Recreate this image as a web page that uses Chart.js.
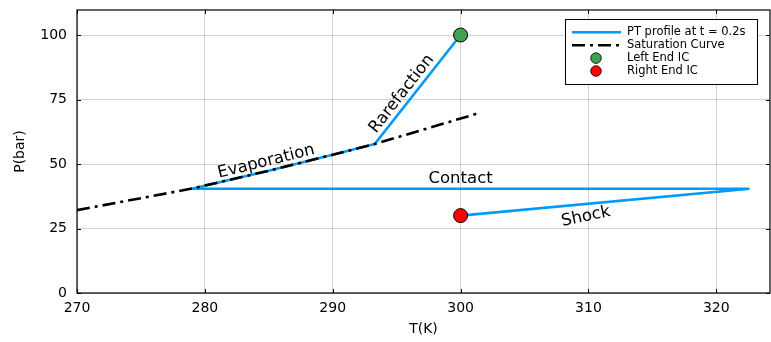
<!DOCTYPE html>
<html>
<head>
<meta charset="utf-8">
<script src="https://cdn.jsdelivr.net/npm/chart.js@4"></script>
<style>
  html, body { margin: 0; padding: 0; background: #fff; }
  #wrap { width: 771px; height: 342px; }
</style>
</head>
<body>
<div id="wrap"><canvas id="pt-chart"></canvas></div>
<script>
// saturation curve (T in K, P in bar)
var satT = [270, 279, 285, 290, 293.3, 297, 301.6];
var satP = [32.1, 40.5, 47.4, 53.6, 57.8, 63.2, 70.0];

// PT profile at t = 0.2s
var profT = [300, 293.3, 290, 285, 279, 322.6, 300];
var profP = [100, 57.8, 53.6, 47.4, 40.4, 40.4, 30];

var leftIC = {T: 300, P: 100};
var rightIC = {T: 300, P: 30};

var xTicks = [270, 280, 290, 300, 310, 320];
var yTicks = [0, 25, 50, 75, 100];

// wave labels: text, T, P, angle (deg)
var waveLabels = [
    {text: 'Evaporation', T: 284.8, P: 50.9, angle: -14},
    {text: 'Rarefaction', T: 295.4, P: 77.2, angle: -52},
    {text: 'Contact', T: 300, P: 44.4, angle: 0},
    {text: 'Shock', T: 309.8, P: 29.6, angle: -12}
];

function pts(xs, ys) {
    return xs.map(function(x, i) { return {x: x, y: ys[i]}; });
}

var FONT = "'DejaVu Sans', sans-serif";

var framePlugin = {
    id: 'frame',
    afterDatasetsDraw: function(chart) {
        var ctx = chart.ctx, a = chart.chartArea;
        var xs = chart.scales.x, ys = chart.scales.y;
        ctx.save();
        // wave labels
        ctx.fillStyle = '#000';
        ctx.font = '16.5px ' + FONT;
        ctx.textAlign = 'center';
        ctx.textBaseline = 'middle';
        waveLabels.forEach(function(l) {
            ctx.save();
            ctx.translate(xs.getPixelForValue(l.T), ys.getPixelForValue(l.P));
            ctx.rotate(l.angle * Math.PI / 180);
            ctx.fillText(l.text, 0, 0);
            ctx.restore();
        });
        // box frame
        ctx.strokeStyle = '#000';
        ctx.lineWidth = 1.2;
        ctx.strokeRect(a.left, a.top, a.right - a.left, a.bottom - a.top);
        // inside tick marks
        ctx.lineWidth = 1;
        xTicks.forEach(function(t) {
            var px = Math.round(xs.getPixelForValue(t)) + 0.5;
            ctx.beginPath();
            ctx.moveTo(px, a.bottom); ctx.lineTo(px, a.bottom - 4);
            ctx.moveTo(px, a.top); ctx.lineTo(px, a.top + 4);
            ctx.stroke();
        });
        yTicks.forEach(function(t) {
            var py = Math.round(ys.getPixelForValue(t)) + 0.5;
            ctx.beginPath();
            ctx.moveTo(a.left, py); ctx.lineTo(a.left + 4, py);
            ctx.moveTo(a.right, py); ctx.lineTo(a.right - 4, py);
            ctx.stroke();
        });
        // legend box
        var lx = 565, ly = 19, lw = 192, lh = 65;
        ctx.fillStyle = '#fff';
        ctx.fillRect(lx, ly, lw, lh);
        ctx.lineWidth = 1;
        ctx.strokeRect(lx + 0.5, ly + 0.5, lw, lh);
        ctx.font = '11.5px ' + FONT;
        ctx.textAlign = 'left';
        ctx.textBaseline = 'middle';
        chart.data.datasets.forEach(function(ds, i) {
            var y = ly + 13.3 + i * 12.9;
            var x0 = lx + 7, x1 = lx + 56;
            if (ds.pointRadius === 0) {
                ctx.save();
                ctx.strokeStyle = ds.borderColor;
                ctx.lineWidth = 2.6;
                ctx.setLineDash(ds.borderDash || []);
                ctx.beginPath();
                ctx.moveTo(x0, y); ctx.lineTo(x1, y);
                ctx.stroke();
                ctx.restore();
            } else {
                ctx.beginPath();
                ctx.arc(lx + 31, y, 5.3, 0, Math.PI * 2);
                ctx.fillStyle = ds.backgroundColor;
                ctx.fill();
                ctx.strokeStyle = '#000';
                ctx.lineWidth = 0.8;
                ctx.stroke();
            }
            ctx.fillStyle = '#000';
            ctx.fillText(ds.label, lx + 62, y);
        });
        ctx.restore();
    }
};

var ctx = document.getElementById('pt-chart');

new Chart(ctx, {
    type: 'scatter',
    data: {
        datasets: [
            {
                label: 'PT profile at t = 0.2s',
                data: pts(profT, profP),
                showLine: true,
                borderColor: '#009AFA',
                borderWidth: 2.6,
                pointRadius: 0,
                order: 3
            },
            {
                label: 'Saturation Curve',
                data: pts(satT, satP),
                showLine: true,
                borderColor: '#000',
                borderWidth: 2.6,
                borderDash: [13, 5, 3, 5],
                pointRadius: 0,
                order: 2
            },
            {
                label: 'Left End IC',
                data: [{x: leftIC.T, y: leftIC.P}],
                backgroundColor: '#3DA44D',
                borderColor: '#000',
                borderWidth: 1,
                pointRadius: 7,
                order: 1
            },
            {
                label: 'Right End IC',
                data: [{x: rightIC.T, y: rightIC.P}],
                backgroundColor: '#FF0000',
                borderColor: '#000',
                borderWidth: 1,
                pointRadius: 7,
                order: 0
            }
        ]
    },
    options: {
        responsive: true,
        maintainAspectRatio: false,
        animation: false,
        layout: { autoPadding: false, padding: { top: 10, right: 1, left: 0, bottom: 0 } },
        plugins: {
            legend: { display: false },
            tooltip: { enabled: false }
        },
        scales: {
            x: {
                type: 'linear',
                min: 270,
                max: 324.2,
                afterBuildTicks: function(scale) {
                    scale.ticks = xTicks.map(function(v) { return {value: v}; });
                },
                afterFit: function(scale) {
                    scale.height = 49;
                    scale.paddingLeft = 0;
                    scale.paddingRight = 0;
                },
                ticks: {
                    color: '#000',
                    font: { family: FONT, size: 14 },
                    padding: 7,
                    maxRotation: 0
                },
                grid: { color: 'rgba(0,0,0,0.18)', drawTicks: false },
                border: { display: false },
                title: {
                    display: true,
                    text: 'T(K)',
                    color: '#000',
                    font: { family: FONT, size: 14 },
                    padding: { top: 4, bottom: 4 }
                }
            },
            y: {
                type: 'linear',
                min: 0,
                max: 109.7,
                afterBuildTicks: function(scale) {
                    scale.ticks = yTicks.map(function(v) { return {value: v}; });
                },
                afterFit: function(scale) {
                    scale.width = 77;
                    scale.paddingTop = 0;
                    scale.paddingBottom = 0;
                },
                ticks: {
                    color: '#000',
                    font: { family: FONT, size: 14 },
                    padding: 10
                },
                grid: { color: 'rgba(0,0,0,0.18)', drawTicks: false },
                border: { display: false },
                title: {
                    display: true,
                    text: 'P(bar)',
                    color: '#000',
                    font: { family: FONT, size: 14 },
                    padding: { top: 12, bottom: 0 }
                }
            }
        }
    },
    plugins: [framePlugin]
});
</script>
</body>
</html>
